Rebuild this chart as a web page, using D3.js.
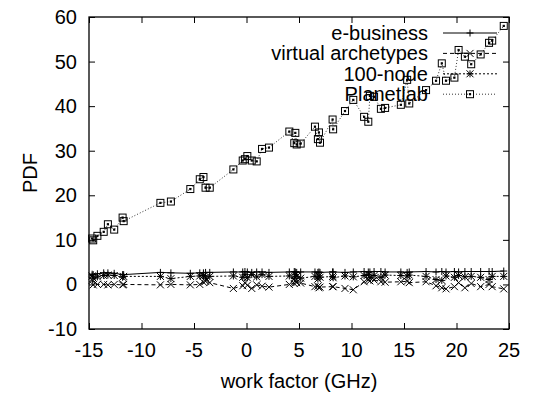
<!DOCTYPE html>
<html>
<head>
<meta charset="utf-8">
<script src="https://cdn.jsdelivr.net/npm/d3@7"></script>
<style>
  body { margin: 0; background: #fff; }
  svg { display: block; }
</style>
</head>
<body>
<div id="chart"></div>
<script>
// x values shared by every series
const workFactor = [-14.7, -14.6, -14.2, -13.6, -13.2, -12.6, -11.8, -11.7, -8.2, -7.2,
  -5.35, -4.45, -4.1, -3.9, -3.5, -1.25, -0.36, -0.15, 0.08, 0.5,
  0.97, 1.48, 2.14, 4.08, 4.55, 4.65, 4.78, 5.16, 6.52, 6.8,
  6.9, 7.0, 8.2, 8.25, 9.38, 10.17, 11.2, 11.6, 11.75, 12.15,
  12.8, 13.2, 14.7, 15.3, 15.5, 17.1, 18.05, 18.6, 19.0, 19.8,
  20.2, 20.8, 21.4, 22.3, 23.1, 23.4, 24.5];

const eBusiness = [2.3, 2.2, 2.4, 2.6, 2.6, 2.5, 2.2, 2.2, 2.7, 2.6,
  2.5, 2.6, 2.6, 2.7, 2.7, 2.8, 2.8, 2.9, 2.8, 2.7,
  2.8, 2.8, 2.7, 2.8, 2.9, 2.8, 2.7, 2.8, 2.8, 2.7,
  2.8, 2.7, 2.8, 2.8, 2.7, 2.8, 2.9, 2.8, 2.8, 2.9,
  2.9, 2.8, 2.8, 2.7, 2.8, 2.9, 2.8, 2.9, 2.8, 2.9,
  2.8, 2.9, 2.9, 2.9, 2.9, 2.9, 3.0];

const virtualArchetypes = [0.9, -0.1, 0.0, 0.0, -0.1, 0.0, -0.1, 0.0, -0.1, 0.0,
  -0.1, 0.0, 0.5, 0.7, 0.4, -0.9, -0.3, 0.4, -0.2, -0.9,
  -0.1, -0.4, -0.6, 0.0, 0.2, 0.8, 0.4, 0.3, -0.5, -0.4,
  -0.75, -0.6, -0.5, -0.5, -0.9, -1.2, 0.6, 1.0, 0.8, 1.0,
  0.6, 0.5, 0.6, 0.7, 0.4, 0.6, -0.3, -0.75, -1.0, -0.5,
  0.4, -0.75, 0.2, -0.5, 0.0, -0.5, -1.0];

const hundredNode = [1.9, 1.4, 1.7, 2.0, 2.1, 2.0, 1.6, 1.8, 1.8, 1.3,
  1.8, 1.9, 2.0, 1.5, 1.8, 1.9, 1.6, 2.2, 1.5, 2.2,
  1.7, 2.2, 1.8, 1.9, 1.3, 2.2, 1.8, 1.4, 1.8, 1.2,
  1.9, 1.6, 1.8, 1.5, 1.9, 1.7, 2.0, 2.2, 1.5, 2.0,
  1.6, 2.1, 2.0, 1.9, 2.1, 1.8, 1.1, 0.9, 1.9, 1.6,
  2.0, 1.7, 1.8, 1.6, 1.1, 1.8, 1.8];

const planetlab = [10.3, 9.9, 10.9, 11.8, 13.5, 12.3, 15.0, 14.2, 18.3, 18.6,
  21.4, 23.6, 24.1, 21.7, 21.7, 25.8, 27.8, 28.1, 28.8, 27.8,
  27.6, 30.4, 30.7, 34.3, 31.7, 34.0, 31.4, 31.6, 35.4, 32.6,
  34.1, 31.8, 37.0, 34.8, 38.9, 41.4, 37.6, 36.5, 42.3, 42.1,
  39.4, 39.6, 40.3, 45.9, 40.6, 43.6, 45.7, 49.6, 45.7, 46.4,
  52.6, 51.1, 49.4, 51.6, 54.2, 54.7, 58.0];

const xTicks = [-15, -10, -5, 0, 5, 10, 15, 20, 25];
const yTicks = [-10, 0, 10, 20, 30, 40, 50, 60];

const seriesNames = ["e-business", "virtual archetypes", "100-node", "Planetlab"];
const seriesValues = [eBusiness, virtualArchetypes, hundredNode, planetlab];
const dashes = [null, "4,3", "2,2", "1,2"];
const markers = ["plus", "cross", "star", "box"];

const W = 536, H = 394;
const margin = { top: 17, right: 27, bottom: 65, left: 89 };
const width = W - margin.left - margin.right;
const height = H - margin.top - margin.bottom;
const FONT = "'Liberation Sans', Arial, Helvetica, sans-serif";

const svg = d3.select("#chart").append("svg")
  .attr("width", W).attr("height", H);
const g = svg.append("g")
  .attr("transform", `translate(${margin.left},${margin.top})`);

const x = d3.scaleLinear().domain([-15, 25]).range([0, width]);
const y = d3.scaleLinear().domain([-10, 60]).range([height, 0]);

function label(parent, tx, ty, str, anchor, rotate) {
  return parent.append("text")
    .attr("transform", `translate(${tx},${ty})` + (rotate ? " rotate(-90)" : ""))
    .attr("text-anchor", anchor)
    .attr("font-family", FONT)
    .attr("font-size", 20)
    .attr("fill", "#000")
    .text(str);
}

// inward ticks on all four sides
g.append("g").attr("transform", `translate(0,${height})`)
  .call(d3.axisBottom(x).tickValues(xTicks).tickSize(-6).tickFormat(""));
g.append("g")
  .call(d3.axisTop(x).tickValues(xTicks).tickSize(-6).tickFormat(""));
g.append("g")
  .call(d3.axisLeft(y).tickValues(yTicks).tickSize(-6).tickFormat(""));
g.append("g").attr("transform", `translate(${width},0)`)
  .call(d3.axisRight(y).tickValues(yTicks).tickSize(-6).tickFormat(""));
g.selectAll(".domain").remove();
g.selectAll(".tick line").attr("stroke", "#000").attr("stroke-width", 1);

g.append("rect")
  .attr("width", width).attr("height", height)
  .attr("fill", "none").attr("stroke", "#000").attr("stroke-width", 1.3);

// tick labels
xTicks.forEach(t => label(g, x(t), height + 28, t, "middle"));
yTicks.forEach(t => label(g, -12, y(t) + 7, t, "end"));

// axis titles
label(g, width / 2, height + 59, "work factor (GHz)", "middle");
label(g, -52, height / 2, "PDF", "middle", true);

function drawMarker(sel, type) {
  const s = 3.5;
  if (type === "plus" || type === "star") {
    sel.append("path").attr("d", `M${-s},0H${s}M0,${-s}V${s}`);
  }
  if (type === "cross" || type === "star") {
    sel.append("path").attr("d", `M${-s},${-s}L${s},${s}M${-s},${s}L${s},${-s}`);
  }
  if (type === "box") {
    sel.append("rect").attr("x", -s).attr("y", -s).attr("width", 2 * s).attr("height", 2 * s)
      .attr("fill", "none");
    sel.append("rect").attr("x", -0.6).attr("y", -0.6).attr("width", 1.2).attr("height", 1.2)
      .attr("fill", "#000").attr("stroke", "none");
  }
  sel.selectAll("path, rect").attr("stroke", "#000").attr("stroke-width", 1);
}

const line = d3.line().x(d => x(d[0])).y(d => y(d[1]));

seriesValues.forEach((vals, i) => {
  const pts = workFactor.map((w, k) => [w, vals[k]]);
  g.append("path")
    .datum(pts)
    .attr("fill", "none")
    .attr("stroke", i === 3 ? "#333" : "#000")
    .attr("stroke-width", 1)
    .attr("stroke-dasharray", dashes[i])
    .attr("d", line);
  g.append("g").selectAll("g")
    .data(pts).enter().append("g")
    .attr("transform", d => `translate(${x(d[0])},${y(d[1])})`)
    .each(function () { drawMarker(d3.select(this), markers[i]); });
});

// legend
const legend = g.append("g");
seriesNames.forEach((name, i) => {
  const ly = 16 + i * 20.4;
  label(legend, 339, ly + 7, name, "end");
  legend.append("line")
    .attr("x1", 354).attr("x2", 408).attr("y1", ly).attr("y2", ly)
    .attr("stroke", i === 3 ? "#333" : "#000").attr("stroke-width", 1)
    .attr("stroke-dasharray", dashes[i]);
  const m = legend.append("g").attr("transform", `translate(381,${ly})`);
  drawMarker(m, markers[i]);
});
</script>
</body>
</html>
